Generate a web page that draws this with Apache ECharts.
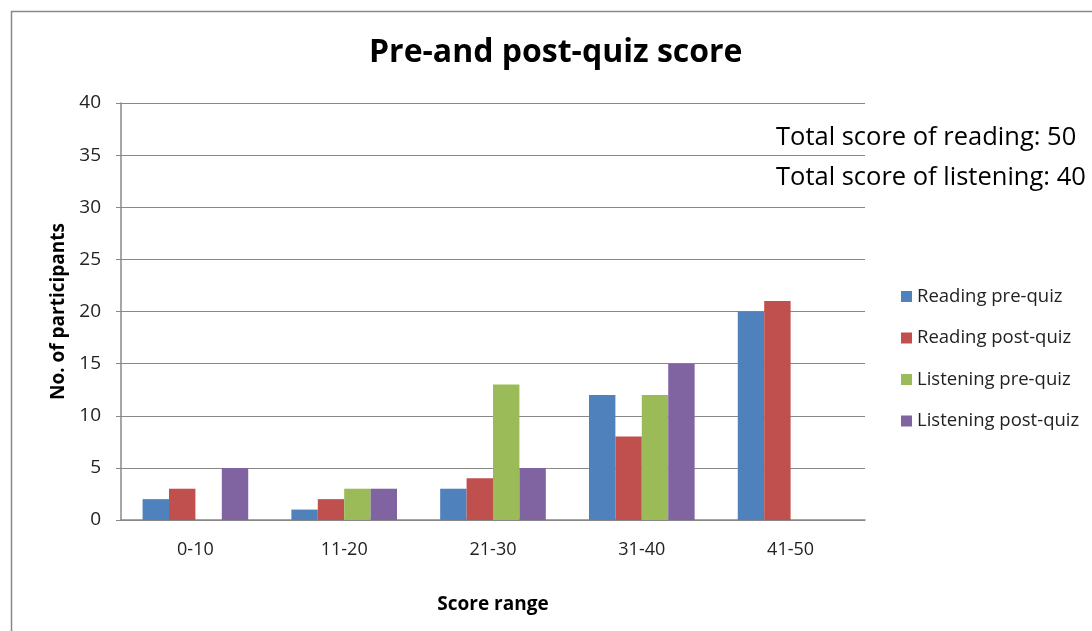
<!DOCTYPE html>
<html><head><meta charset="utf-8">
<script src="https://cdn.jsdelivr.net/npm/echarts@6/dist/echarts.min.js"></script>
<style>html,body{margin:0;padding:0;background:#fff}#c{width:1092px;height:631px}</style>
</head><body><div id="c"></div>
<script>
const categories = ['0-10','11-20','21-30','31-40','41-50'];
const readingPre = [2,1,3,12,20];
const readingPost = [3,2,4,8,21];
const listeningPre = [0,3,13,12,0];
const listeningPost = [5,3,5,15,0];
const seriesNames = ['Reading pre-quiz','Reading post-quiz','Listening pre-quiz','Listening post-quiz'];
const colors = ['#4F81BD','#C0504D','#9BBB59','#8064A2'];
const notes = ['Total score of reading: 50','Total score of listening: 40'];

const font = '"Open Sans",sans-serif';
const chart = echarts.init(document.getElementById('c'));
const allData = [readingPre, readingPost, listeningPre, listeningPost];
chart.setOption({
  animation:false,
  color: colors,
  title:{text:'Pre-and post-quiz score',left:364,top:32,
    textStyle:{fontFamily:font,fontWeight:'bold',fontSize:32,color:'#000'}},
  graphic:[
    {type:'rect',left:9,top:9,shape:{width:1100,height:640},style:{fill:'none',stroke:'#888',lineWidth:1.5},silent:true},
    {type:'text',left:776,top:125,style:{text:notes[0],font:'25.5px '+font,fill:'#000'}},
    {type:'text',left:776,top:165,style:{text:notes[1],font:'25.5px '+font,fill:'#000'}}
  ],
  legend:{orient:'vertical',left:896,top:282,itemWidth:11,itemHeight:11,itemGap:22.5,
    icon:'rect',data:seriesNames,
    textStyle:{fontFamily:font,fontSize:18.5,color:'#222'}},
  grid:{left:121,right:227,top:103,bottom:111},
  xAxis:{type:'category',data:categories,
    axisLine:{lineStyle:{color:'#888',width:1.5}},
    axisTick:{show:false},
    axisLabel:{fontFamily:font,fontSize:18,color:'#222',margin:21},
    name:'Score range',nameLocation:'middle',nameGap:75,
    nameTextStyle:{fontFamily:font,fontWeight:'bold',fontSize:19,color:'#000'}},
  yAxis:{type:'value',min:0,max:40,interval:5,
    axisLine:{show:true,lineStyle:{color:'#888',width:1.5}},
    axisTick:{show:true,length:5,lineStyle:{color:'#888'}},
    splitLine:{lineStyle:{color:'#888',width:1.2}},
    axisLabel:{fontFamily:font,fontSize:19,color:'#222',margin:20},
    name:'No. of participants',nameLocation:'middle',nameGap:53,
    nameTextStyle:{fontFamily:font,fontWeight:'bold',fontSize:19,color:'#000'}},
  series: seriesNames.map((n,i)=>({name:n,type:'bar',data:allData[i],
    barGap:'0%',barCategoryGap:'29%',itemStyle:{color:colors[i]}}))
});
</script></body></html>
